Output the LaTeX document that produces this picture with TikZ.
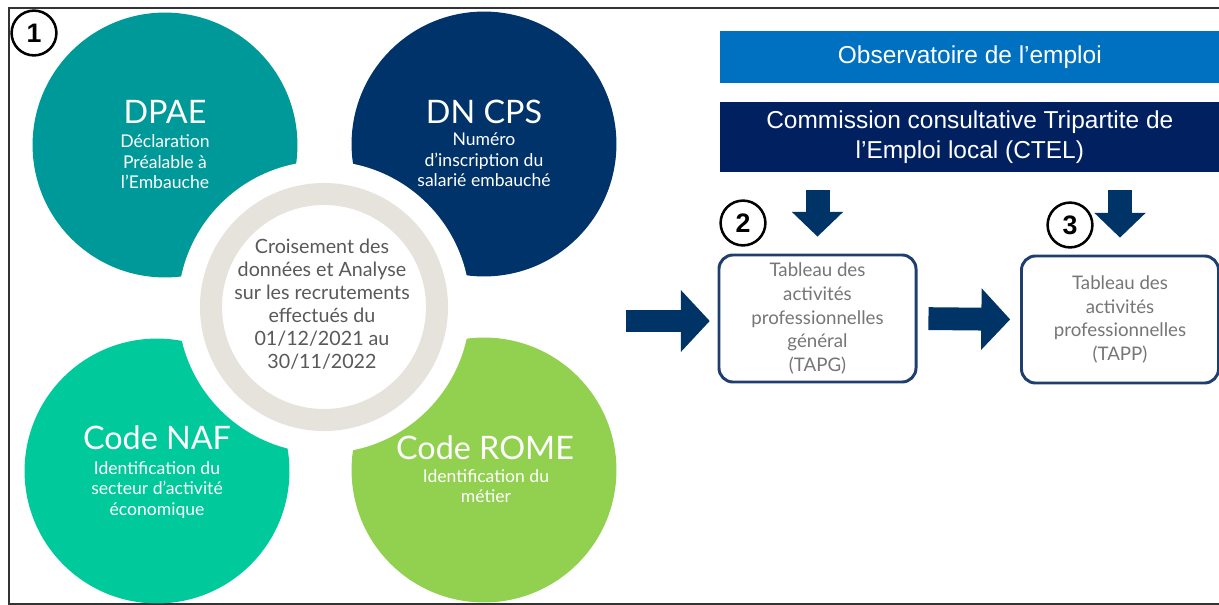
\documentclass[tikz,border=0pt]{standalone}
\usepackage{fontspec}
\setmainfont{Lato}
\newfontfamily\arialfont{Liberation Sans}
\usetikzlibrary{arrows.meta}
\definecolor{dpaecol}{HTML}{009999}
\definecolor{dncpscol}{HTML}{00336A}
\definecolor{nafcol}{HTML}{00C99B}
\definecolor{romecol}{HTML}{92D050}
\definecolor{ringcol}{HTML}{E6E3DD}
\definecolor{obscol}{HTML}{0070C0}
\definecolor{ctelcol}{HTML}{002060}
\definecolor{arrowcol}{HTML}{003366}
\definecolor{boxcol}{HTML}{1F3D6E}
\definecolor{centertxt}{HTML}{595959}
\definecolor{boxtxt}{HTML}{767676}
\definecolor{framecol}{HTML}{333333}

\begin{document}
\begin{tikzpicture}[x=0.025cm,y=-0.025cm,
  disc/.style={circle,inner sep=0pt,minimum size=6.62cm},
  disctitle/.style={text=white,font=\fontsize{23}{26}\selectfont},
  discsub/.style={text=white,align=center,font=\fontsize{12.5}{14.6}\selectfont},
  numbubble/.style={circle,draw=black,fill=white,line width=1.8pt,inner sep=0pt,
    minimum size=1.12cm,font=\arialfont\bfseries\fontsize{19}{22}\selectfont},
  bandbox/.style={anchor=west,inner sep=0pt,minimum width=12.475cm,text=white,
    align=center,font=\arialfont\fontsize{17.4}{21.3}\selectfont},
  tabbox/.style={draw=boxcol,line width=2.1pt,rounded corners=10pt,fill=white,
    minimum width=4.925cm,minimum height=3.175cm,inner sep=0pt,align=center,
    text=boxtxt,font=\fontsize{13.3}{17}\selectfont},
  rightarrow/.style={arrowcol,line width=0.57cm,-{Triangle[width=1.5cm,length=0.72cm]}},
  downarrow/.style={arrowcol,line width=0.6cm,-{Triangle[width=1.25cm,length=0.62cm]}}]
    \useasboundingbox (0,0) rectangle (1219,605);
    \draw [framecol,line width=0.8pt] (1219,8) -- (9,8) -- (9,604) -- (1219,604);

    \node [disc,fill=dpaecol] (dpae) at (165,145) {};
    \node [disc,fill=dncpscol] (dncps) at (484,144) {};
    \node [disc,fill=nafcol] (naf) at (157,471) {};
    \node [disc,fill=romecol] (rome) at (484,470) {};
    \node [circle,fill=white,inner sep=0pt,minimum size=7.3cm] (halo) at (324,307) {};
    \node [circle,draw=ringcol,line width=0.55cm,inner sep=0pt,minimum size=5.65cm] (ring) at (324,307) {};

    \node [disctitle] (dpaetitle) at (165,112) {DPAE};
    \node [discsub] (dpaesub) at (165,162) {Déclaration\\Préalable à\\l'Embauche};
    \node [disctitle] (dncpstitle) at (484,112) {DN CPS};
    \node [discsub] (dncpssub) at (484,160) {Numéro\\d’inscription du\\salarié embauché};
    \node [disctitle] (naftitle) at (157,438) {Code NAF};
    \node [discsub] (nafsub) at (157,490) {Identification du\\secteur d’activité\\économique};
    \node [disctitle] (rometitle) at (485,448) {Code ROME};
    \node [discsub] (romesub) at (486,486) {Identification du\\métier};
    \node [align=center,text=centertxt,font=\fontsize{14}{16.4}\selectfont] (cross) at (322,304)
      {Croisement des\\données et Analyse\\sur les recrutements\\effectués du\\01/12/2021 au\\30/11/2022};

    \node [bandbox,fill=obscol,minimum height=1.3cm] (obs) at (720,57) {Observatoire de l’emploi};
    \node [bandbox,fill=ctelcol,minimum height=1.75cm] (ctel) at (720,137)
      {Commission consultative Tripartite de\\l’Emploi local (CTEL)};

    \node [tabbox] (tapg) at (817.5,318.5) {Tableau des\\activités\\professionnelles\\général\\(TAPG)};
    \node [tabbox] (tapp) at (1120,319.5) {Tableau des\\activités\\professionnelles\\(TAPP)};

    \coordinate (crossout) at (626,321);
    \draw [rightarrow,shorten >=5.5pt] (crossout) -- (crossout -| tapg.west);
    \draw [rightarrow,shorten <=7.8pt,shorten >=7pt] (tapg.east) -- (tapp.west);
    \draw [downarrow,shorten <=12.8pt,shorten >=12pt] (tapg.north |- ctel.south) -- (tapg.north);
    \draw [downarrow,shorten <=12.8pt,shorten >=12pt] (tapp.north |- ctel.south) -- (tapp.north);

    \node [numbubble] (num1) at (34,33) {1};
    \node [numbubble] (num2) at (743,223) {2};
    \node [numbubble] (num3) at (1070,225) {3};
\end{tikzpicture}
\end{document}
